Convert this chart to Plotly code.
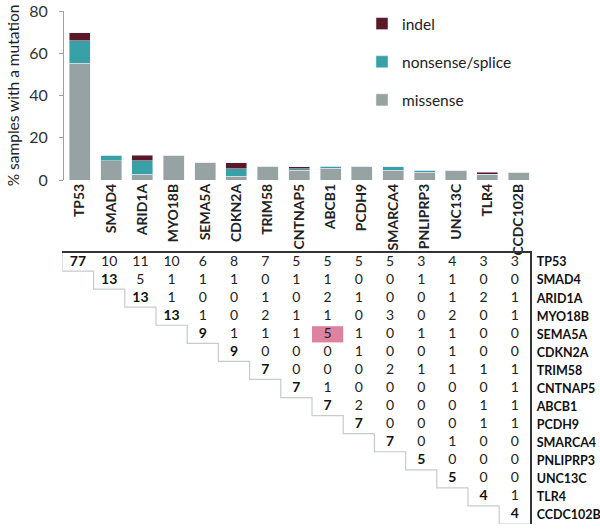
import plotly.graph_objects as go

genes = ["TP53", "SMAD4", "ARID1A", "MYO18B", "SEMA5A", "CDKN2A", "TRIM58",
         "CNTNAP5", "ABCB1", "PCDH9", "SMARCA4", "PNLIPRP3", "UNC13C", "TLR4", "CCDC102B"]

# % samples with a mutation, by mutation type
missense = [55.3, 9.1, 2.7, 11.8, 8.2, 1.8, 6.4, 4.5, 5.5, 6.4, 4.5, 3.6, 4.5, 2.7, 3.6]
nonsense = [10.7, 2.7, 6.4, 0.0, 0.0, 3.6, 0.0, 0.9, 0.9, 0.0, 1.8, 0.9, 0.0, 0.0, 0.0]
indel = [3.8, 0.0, 2.7, 0.0, 0.0, 2.7, 0.0, 0.9, 0.0, 0.0, 0.0, 0.0, 0.0, 0.9, 0.0]

# co-occurrence counts (upper triangle, each row starts at the diagonal)
cooc = [
    [77, 10, 11, 10, 6, 8, 7, 5, 5, 5, 5, 3, 4, 3, 3],
    [13, 5, 1, 1, 1, 0, 1, 1, 0, 0, 1, 1, 0, 0],
    [13, 1, 0, 0, 1, 0, 2, 1, 0, 0, 1, 2, 1],
    [13, 1, 0, 2, 1, 1, 0, 3, 0, 2, 0, 1],
    [9, 1, 1, 1, 5, 1, 0, 1, 1, 0, 0],
    [9, 0, 0, 0, 1, 0, 0, 1, 0, 0],
    [7, 0, 0, 0, 2, 1, 1, 1, 1],
    [7, 1, 0, 0, 0, 0, 0, 1],
    [7, 2, 0, 0, 0, 1, 1],
    [7, 0, 0, 0, 1, 1],
    [7, 0, 1, 0, 0],
    [5, 0, 0, 0],
    [5, 0, 0],
    [4, 1],
    [4],
]
highlight = ("SEMA5A", "ABCB1")

C_MIS = "#97A3A3"
C_NON = "#38A0A7"
C_IND = "#5A1828"
FONT = "Lato"

n = len(genes)
idx = list(range(n))

fig = go.Figure()
fig.add_trace(go.Bar(x=idx, y=missense, name="missense", marker_color=C_MIS,
                     width=0.67, legendgroup="c", legendrank=3))
fig.add_trace(go.Bar(x=idx, y=nonsense, name="nonsense/splice", marker_color=C_NON,
                     width=0.67, legendgroup="b", legendrank=2))
fig.add_trace(go.Bar(x=idx, y=indel, name="indel", marker_color=C_IND,
                     width=0.67, legendgroup="a", legendrank=1))

# matrix text
dx, dy, dt, ox, oy, ot = [], [], [], [], [], []
for r, row in enumerate(cooc):
    for k, v in enumerate(row):
        c = r + k
        if k == 0:
            dx.append(c); dy.append(r); dt.append(str(v))
        else:
            ox.append(c); oy.append(r); ot.append(str(v))

hr = genes.index(highlight[0])
hc = genes.index(highlight[1])
fig.add_shape(type="rect", xref="x2", yref="y2", x0=hc - 0.5, x1=hc + 0.5,
              y0=hr - 0.45, y1=hr + 0.45, fillcolor="#DE82A2", line_width=0, layer="below")

fig.add_trace(go.Scatter(x=ox, y=oy, text=ot, mode="text", xaxis="x2", yaxis="y2",
                         textfont=dict(family=FONT, size=14, color="#222222"),
                         showlegend=False, hoverinfo="skip"))
fig.add_trace(go.Scatter(x=dx, y=dy, text=dt, mode="text", xaxis="x2", yaxis="y2",
                         textfont=dict(family=FONT, size=14, color="#111111", weight="bold"),
                         showlegend=False, hoverinfo="skip"))

# staircase along the diagonal
sx, sy = [-0.5], [-0.5]
for i in range(n):
    sx += [i - 0.5, i + 0.5]
    sy += [i + 0.5, i + 0.5]
fig.add_trace(go.Scatter(x=sx, y=sy, mode="lines", xaxis="x2", yaxis="y2",
                         line=dict(color="#C4CCCC", width=1.2),
                         showlegend=False, hoverinfo="skip"))

W, H = 600, 531
fig.update_layout(
    width=W, height=H,
    margin=dict(l=0, r=0, t=0, b=0),
    paper_bgcolor="white", plot_bgcolor="white",
    barmode="stack", bargap=0.33, hovermode=False,
    font=dict(family=FONT, color="#222222"),
    legend=dict(x=362 / W, y=1 - 7 / H, xanchor="left", yanchor="top",
                traceorder="grouped", tracegroupgap=15,
                font=dict(family=FONT, size=15.5, color="#222222"),
                bgcolor="rgba(0,0,0,0)"),
    xaxis=dict(domain=[64 / W, 534.4 / W], range=[-0.5, 14.5], automargin=False,
               tickmode="array", tickvals=idx, ticktext=genes, tickangle=-90,
               tickfont=dict(family=FONT, size=14, color="#222222", weight="bold"),
               showline=False, showgrid=False, zeroline=False, ticks="", anchor="y"),
    yaxis=dict(domain=[1 - 180 / H, 1 - 11 / H], range=[0, 80], automargin=False,
               tickvals=[0, 20, 40, 60, 80], showgrid=False, zeroline=False,
               showline=True, linecolor="#A0A0A0", linewidth=1,
               ticks="outside", ticklen=4, tickcolor="#A0A0A0", ticklabelstandoff=8,
               tickfont=dict(family=FONT, size=16, color="#333333"),
               title=dict(text="% samples with a mutation", standoff=5,
                          font=dict(family=FONT, size=15.5, color="#222222")),
               anchor="x"),
    xaxis2=dict(domain=[62.4 / W, 530.4 / W], range=[-0.5, 14.5], automargin=False,
                showticklabels=False, ticks="", showgrid=False, zeroline=False,
                showline=True, linecolor="#333333", linewidth=1.5, side="top",
                anchor="y2"),
    yaxis2=dict(domain=[1 - 524 / H, 1 - 253 / H], range=[14.5, -0.5], automargin=False,
                tickmode="array", tickvals=idx, ticktext=genes, side="right",
                tickfont=dict(family=FONT, size=12.5, color="#111111", weight="bold"),
                ticks="", showgrid=False, zeroline=False, ticklabelstandoff=2,
                showline=True, linecolor="#333333", linewidth=1.5,
                anchor="x2"),
)

fig.write_html("out.html", config={"displayModeBar": False},
               post_script="document.body.style.margin='0';document.body.style.padding='0';")
